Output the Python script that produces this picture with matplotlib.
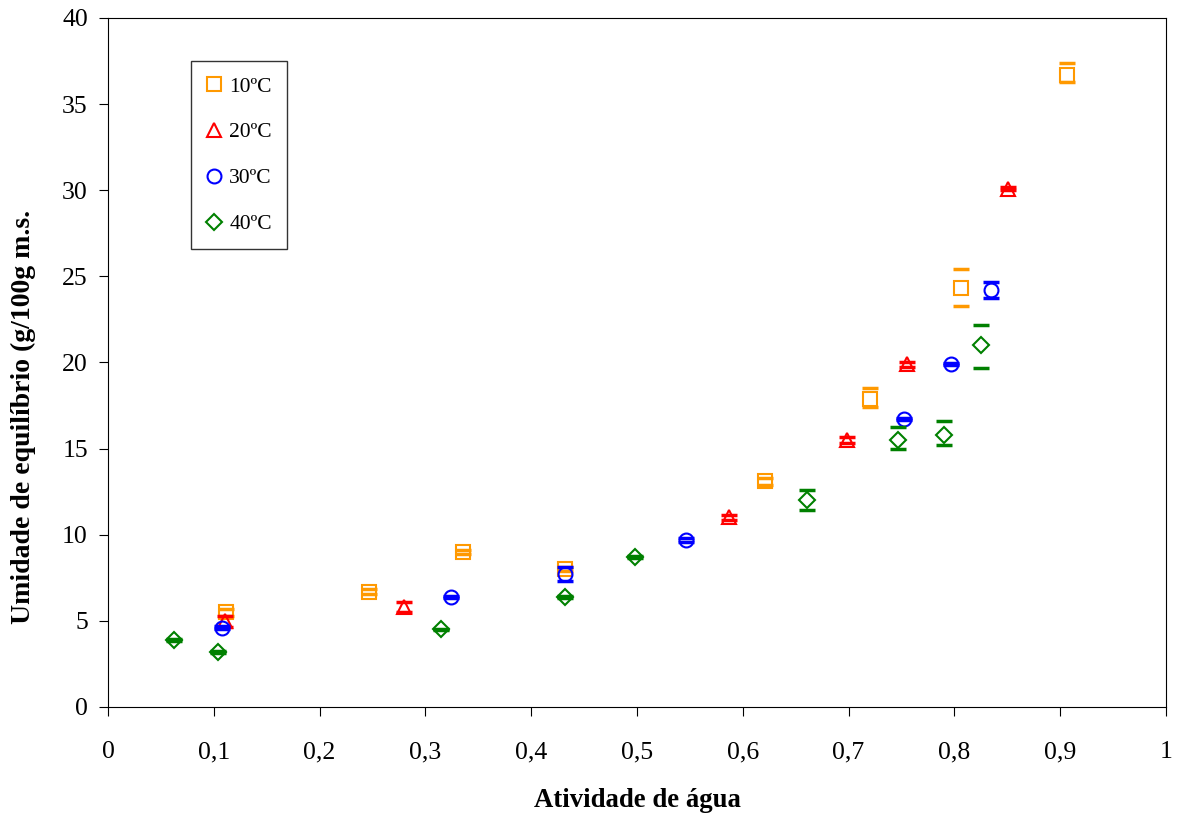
import numpy as np
import matplotlib.pyplot as plt

plt.rcParams['font.family'] = ['Liberation Serif', 'DejaVu Serif']

# 10 C
aw_10 = [0.112, 0.247, 0.336, 0.432, 0.621, 0.720, 0.806, 0.906]
x_10 = [5.5, 6.7, 9.0, 8.0, 13.1, 17.9, 24.3, 36.7]
lo_10 = [0.2, 0.15, 0.1, 0.1, 0.2, 0.5, 1.0, 0.4]
hi_10 = [0.2, 0.15, 0.1, 0.1, 0.2, 0.6, 1.1, 0.7]

# 20 C
aw_20 = [0.111, 0.280, 0.587, 0.698, 0.755, 0.851]
x_20 = [5.0, 5.8, 11.0, 15.5, 19.9, 30.1]
lo_20 = [0.35, 0.3, 0.15, 0.15, 0.15, 0.1]
hi_20 = [0.3, 0.3, 0.15, 0.15, 0.15, 0.1]

# 30 C
aw_30 = [0.108, 0.324, 0.432, 0.546, 0.752, 0.797, 0.835]
x_30 = [4.6, 6.4, 7.7, 9.7, 16.7, 19.9, 24.2]
lo_30 = [0.1, 0.05, 0.4, 0.1, 0.05, 0.05, 0.45]
hi_30 = [0.1, 0.05, 0.4, 0.1, 0.05, 0.05, 0.45]

# 40 C
aw_40 = [0.062, 0.104, 0.315, 0.432, 0.498, 0.661, 0.747, 0.790, 0.825]
x_40 = [3.9, 3.2, 4.5, 6.4, 8.7, 12.0, 15.5, 15.8, 21.0]
lo_40 = [0.05, 0.05, 0.05, 0.05, 0.05, 0.55, 0.55, 0.6, 1.3]
hi_40 = [0.05, 0.05, 0.05, 0.05, 0.05, 0.6, 0.75, 0.8, 1.2]

series = [
    (aw_10, x_10, lo_10, hi_10, 's', '#FF9900', '10ºC'),
    (aw_20, x_20, lo_20, hi_20, '^', '#FF0000', '20ºC'),
    (aw_30, x_30, lo_30, hi_30, 'o', '#0000FF', '30ºC'),
    (aw_40, x_40, lo_40, hi_40, 'D', '#008000', '40ºC'),
]

fig = plt.figure(figsize=(11.79, 8.14), dpi=100)
ax = fig.add_axes([0.0916, 0.1315, 0.8974, 0.8464])

for aw, x, lo, hi, mk, col, lab in series:
    eb = ax.errorbar(aw, x, yerr=[lo, hi], fmt='none', ecolor=col,
                     capsize=6, capthick=2.5, elinewidth=0)
    eb[2][0].set_visible(False)
    ms = 8 if mk == 'D' else 10
    ax.plot(aw, x, linestyle='none', marker=mk, markersize=ms,
            markerfacecolor='none', markeredgecolor=col, markeredgewidth=1.5,
            label=lab)

ax.set_xlim(0, 1)
ax.set_ylim(0, 40)
ax.set_xticks(np.arange(0, 1.01, 0.1))
ax.set_xticklabels(['0', '0,1', '0,2', '0,3', '0,4', '0,5', '0,6', '0,7', '0,8', '0,9', '1'])
ax.set_yticks(np.arange(0, 41, 5))
ax.tick_params(labelsize=18.5, direction='out', length=6.5)
ax.tick_params(axis='x', pad=18)
ax.tick_params(axis='y', pad=8)
ax.set_xlabel('Atividade de água', fontsize=19.3, fontweight='bold', labelpad=18)
ax.set_ylabel('Umidade de equilíbrio (g/100g m.s.', fontsize=20, fontweight='bold')
ax.yaxis.set_label_coords(-0.068, 0.421)

leg = ax.legend(loc='upper left', bbox_to_anchor=(0.078, 0.937), fontsize=15.5,
                frameon=True, fancybox=False, edgecolor='black', handlelength=0.8,
                handletextpad=0.3, labelspacing=1.2, borderpad=0.7, borderaxespad=0)
leg.get_frame().set_linewidth(1.0)

fig.savefig('out.png', dpi=100)
